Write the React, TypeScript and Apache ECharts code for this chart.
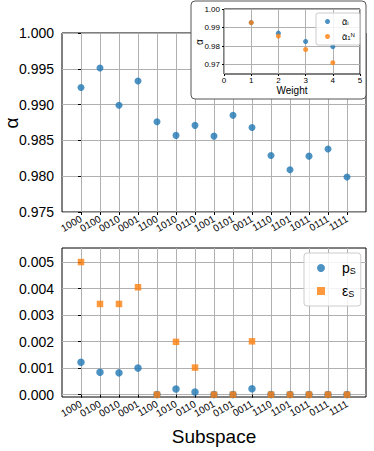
import React, { useEffect, useRef } from 'react';
import * as echarts from 'echarts';

const subspaces = ['1000', '0100', '0010', '0001', '1100', '1010', '0110', '1001', '0101', '0011', '1110', '1101', '1011', '0111', '1111'];
const alphaValues = [0.9924, 0.9951, 0.9899, 0.9933, 0.9876, 0.9857, 0.9871, 0.9856, 0.9885, 0.9868, 0.9829, 0.9809, 0.9828, 0.9838, 0.9799];
const pS = [0.00122, 0.000845, 0.00082, 0.001, 0, 0.00021, 0.0001, 0, 0, 0.00022, 0, 0, 0, 0, 0];
const epsS = [0.005, 0.00342, 0.00342, 0.00405, 0, 0.00199, 0.00102, 0, 0, 0.00201, 0, 0, 0, 0, 0];
const weights = [1, 2, 3, 4];
const alphaMean = [0.9927, 0.987, 0.9825, 0.9797];
const alphaN = [0.9927, 0.9854, 0.9782, 0.9711];
const topYTicks = [0.975, 0.98, 0.985, 0.99, 0.995, 1.0];
const bottomYTicks = [0, 0.001, 0.002, 0.003, 0.004, 0.005];
const insetXTicks = [0, 1, 2, 3, 4, 5];
const insetYTicks = [0.97, 0.98, 0.99, 1.0];

const FONT = 'Liberation Sans';
const BLUE = '#1f77b4';
const ORANGE = '#ff7f0e';
const GRIDC = '#b0b0b0';

export default function App() {
  const ref = useRef<HTMLDivElement>(null);
  useEffect(() => {
    document.body.style.margin = '0';
    if (!ref.current) return;
    const chart = echarts.init(ref.current, undefined, { renderer: 'svg' });
    const idx = subspaces.map((_, i) => i);
    const catAxis = (gi: number) => ({
      gridIndex: gi,
      type: 'value',
      min: -1,
      max: 15,
      interval: 1,
      axisLine: { show: false },
      axisTick: { show: true, customValues: idx, length: 3, lineStyle: { color: '#000' } },
      axisLabel: {
        hideOverlap: false,
        rotate: 30,
        fontSize: 10,
        fontFamily: FONT,
        color: '#000',
        margin: 6,
        formatter: (v: number) => (Number.isInteger(v) && v >= 0 && subspaces[v] ? subspaces[v] : ''),
      },
      splitLine: { show: true, lineStyle: { color: GRIDC, width: 1 } },
    });
    const option: any = {
      animation: false,
      textStyle: { fontFamily: FONT },
      grid: [
        { left: 62, top: 33, width: 304, height: 179, show: true, borderColor: '#000', borderWidth: 1, backgroundColor: 'transparent' },
        { left: 62, top: 248, width: 304, height: 149, show: true, borderColor: '#000', borderWidth: 1, backgroundColor: 'transparent' },
        { left: 224, top: 9, width: 136, height: 65, show: true, borderColor: '#000', borderWidth: 1, backgroundColor: '#fff', z: 20 },
      ],
      xAxis: [
        catAxis(0),
        catAxis(1),
        {
          gridIndex: 2,
          type: 'value',
          min: 0,
          max: 5,
          interval: 1,
          z: 20,
          axisLine: { show: false },
          axisTick: { show: true, customValues: insetXTicks, length: 2, lineStyle: { color: '#000' } },
          axisLabel: { customValues: insetXTicks, showMinLabel: true, showMaxLabel: true, fontSize: 8, fontFamily: FONT, color: '#000', margin: 2 },
          splitLine: { show: true, lineStyle: { color: GRIDC, width: 1 } },
        },
      ],
      yAxis: [
        {
          gridIndex: 0,
          type: 'value',
          min: 0.975,
          max: 1.0,
          axisLine: { show: false },
          axisTick: { show: true, customValues: topYTicks, length: 3, lineStyle: { color: '#000' } },
          axisLabel: { customValues: topYTicks, fontSize: 14, fontFamily: FONT, color: '#000', margin: 8, formatter: (v: number) => v.toFixed(3) },
          splitLine: { show: true, lineStyle: { color: GRIDC, width: 1 } },
        },
        {
          gridIndex: 1,
          type: 'value',
          min: -0.00009,
          max: 0.00553,
          axisLine: { show: false },
          axisTick: { show: true, customValues: bottomYTicks, length: 3, lineStyle: { color: '#000' } },
          axisLabel: { customValues: bottomYTicks, fontSize: 14, fontFamily: FONT, color: '#000', margin: 8, formatter: (v: number) => v.toFixed(3) },
          splitLine: { show: true, lineStyle: { color: GRIDC, width: 1 } },
        },
        {
          gridIndex: 2,
          type: 'value',
          min: 0.965,
          max: 1.0,
          z: 20,
          axisLine: { show: false },
          axisTick: { show: true, customValues: insetYTicks, length: 2, lineStyle: { color: '#000' } },
          axisLabel: { customValues: insetYTicks, fontSize: 8, fontFamily: FONT, color: '#000', margin: 4, formatter: (v: number) => v.toFixed(2) },
          splitLine: { show: true, lineStyle: { color: GRIDC, width: 1 } },
        },
      ],
      legend: [
        {
          data: ['pS', 'εS'],
          orient: 'vertical',
          left: 304,
          top: 253,
          itemWidth: 8,
          itemHeight: 8,
          itemGap: 9,
          padding: [8, 5, 8, 13],
          borderColor: '#ccc',
          borderWidth: 1,
          borderRadius: 3,
          backgroundColor: 'rgba(255,255,255,0.85)',
          formatter: (n: string) => (n === 'pS' ? '{g|}p{s|S}' : '{g|}ε{s|S}'),
          textStyle: {
            fontSize: 14,
            fontFamily: FONT,
            color: '#000',
            rich: { g: { width: 12 }, s: { fontSize: 9, fontFamily: FONT, verticalAlign: 'bottom' } },
          },
        },
        {
          data: ['mean', 'N'],
          orient: 'vertical',
          left: 316,
          top: 13,
          z: 30,
          itemWidth: 5,
          itemHeight: 5,
          itemGap: 6,
          padding: [4, 5, 4, 9],
          borderColor: '#ccc',
          borderWidth: 1,
          borderRadius: 2,
          backgroundColor: 'rgba(255,255,255,0.85)',
          formatter: (n: string) => (n === 'mean' ? '{g|}α\u0304{s|i}' : '{g|}α\u0304{s|1}{u|N}'),
          textStyle: {
            fontSize: 9,
            fontFamily: FONT,
            color: '#000',
            rich: {
              g: { width: 7 },
              s: { fontSize: 6, fontFamily: FONT, verticalAlign: 'bottom' },
              u: { fontSize: 6, fontFamily: FONT, verticalAlign: 'top' },
            },
          },
        },
      ],
      graphic: [
        { type: 'rect', z: 15, shape: { x: 191, y: 1, width: 175, height: 98, r: 4 }, style: { fill: '#fff', stroke: '#555', lineWidth: 1 } },
        { type: 'text', z: 5, x: 11, y: 123, rotation: Math.PI / 2, style: { text: 'α', fontSize: 19, fontFamily: FONT, fill: '#000', align: 'center', verticalAlign: 'middle' } },
        { type: 'text', z: 5, x: 214, y: 436, style: { text: 'Subspace', fontSize: 19, fontFamily: FONT, fill: '#000', align: 'center', verticalAlign: 'middle' } },
        { type: 'text', z: 30, x: 292, y: 90, style: { text: 'Weight', fontSize: 10, fontFamily: FONT, fill: '#000', align: 'center', verticalAlign: 'middle' } },
        { type: 'text', z: 30, x: 199, y: 42, rotation: Math.PI / 2, style: { text: 'α', fontSize: 10, fontFamily: FONT, fill: '#000', align: 'center', verticalAlign: 'middle' } },
      ],
      series: [
        { type: 'scatter', xAxisIndex: 0, yAxisIndex: 0, symbolSize: 7, itemStyle: { color: BLUE }, data: alphaValues.map((v, i) => [i, v]), clip: false },
        { name: 'pS', type: 'scatter', xAxisIndex: 1, yAxisIndex: 1, symbol: 'circle', symbolSize: 7.5, itemStyle: { color: BLUE }, data: pS.map((v, i) => [i, v]), clip: false },
        { name: 'εS', type: 'scatter', xAxisIndex: 1, yAxisIndex: 1, symbol: 'rect', symbolSize: 6.5, itemStyle: { color: ORANGE }, data: epsS.map((v, i) => [i, v]), clip: false },
        { name: 'mean', type: 'scatter', xAxisIndex: 2, yAxisIndex: 2, z: 25, symbolSize: 5, itemStyle: { color: BLUE }, data: alphaMean.map((v, i) => [weights[i], v]) },
        { name: 'N', type: 'scatter', xAxisIndex: 2, yAxisIndex: 2, z: 25, symbolSize: 5, itemStyle: { color: ORANGE }, data: alphaN.map((v, i) => [weights[i], v]) },
      ],
    };
    chart.setOption(option);
    return () => chart.dispose();
  }, []);
  return <div ref={ref} style={{ width: 374, height: 451, position: 'absolute', left: 0, top: 0 }} />;
}
